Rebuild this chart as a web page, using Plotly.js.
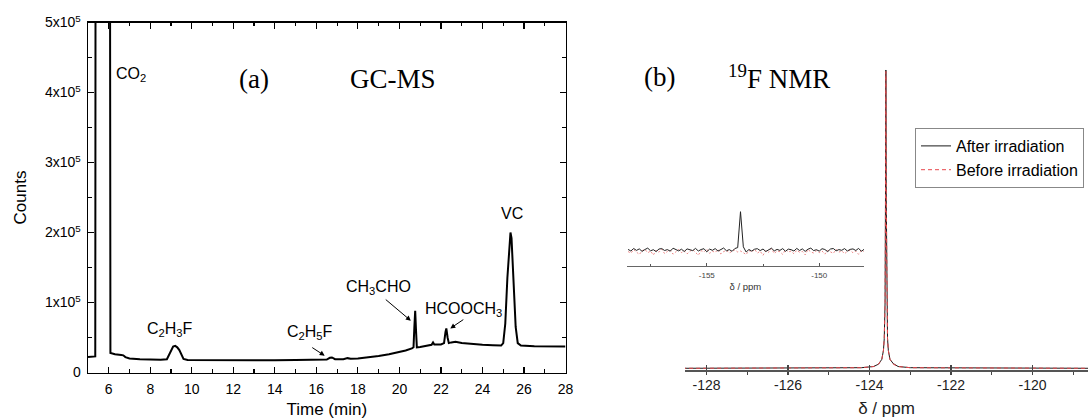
<!DOCTYPE html>
<html>
<head>
<meta charset="utf-8">
<script src="https://cdn.plot.ly/plotly-3.0.1.min.js"></script>
<style>html,body{margin:0;padding:0;background:#fff;}#chart{width:1088px;height:419px;}</style>
</head>
<body>
<div id="chart"></div>
<script>
// ---- (a) GC-MS chromatogram ----
const gcTime = [5.0, 5.3, 5.35, 5.37, 6.05, 6.08, 6.3, 6.6, 6.7, 6.8, 7.0, 7.5, 8.0, 8.5, 8.8, 8.9, 9.0, 9.1, 9.2, 9.3, 9.4, 9.5, 9.6, 9.8,
  10.5, 11, 12, 13, 14, 15, 16, 16.5, 16.65, 16.75, 16.9, 17.3, 17.5, 17.65, 18, 18.5, 19, 19.5, 20, 20.3, 20.6, 20.68, 20.72, 20.76,
  20.8, 20.84, 21.0, 21.3, 21.55, 21.62, 21.68, 22.0, 22.15, 22.22, 22.26, 22.32, 22.38, 22.5, 22.7, 23.0, 23.5, 24.0, 24.5, 24.9,
  25.0, 25.1, 25.2, 25.3, 25.35, 25.4, 25.5, 25.6, 25.7, 25.85, 26.5, 27, 27.5, 28];
const gcCounts = [22000, 22000, 23000, 900000, 900000, 28000, 26000, 25000, 24500, 22000, 20000, 19000, 18500, 18200, 19000, 25000, 33000, 37000, 38000, 36000, 32000, 25000, 19500, 18000,
  17800, 17700, 17500, 17400, 17500, 17700, 18000, 18500, 21000, 21500, 19000, 19000, 20500, 19500, 20000, 21500, 23500, 26000, 29000, 31500, 34500, 36000, 65000, 88000,
  60000, 36000, 36500, 38000, 39500, 43000, 40000, 40000, 42000, 58000, 63000, 50000, 42000, 43000, 44000, 42000, 40500, 39500, 39000, 38500,
  42000, 70000, 135000, 190000, 200000, 192000, 130000, 65000, 42000, 38500, 37500, 37500, 37000, 37000];
const gcXTicks = [6, 8, 10, 12, 14, 16, 18, 20, 22, 24, 26, 28];
const gcYTicks = [0, 100000, 200000, 300000, 400000, 500000];
const gcYTickText = ['0', '1x10<sup>5</sup>', '2x10<sup>5</sup>', '3x10<sup>5</sup>', '4x10<sup>5</sup>', '5x10<sup>5</sup>'];

// peak labels: [text, time, counts]
const gcLabels = [
  ['CO<sub>2</sub>', 7.07, 425000],
  ['C<sub>2</sub>H<sub>3</sub>F', 8.97, 62000],
  ['C<sub>2</sub>H<sub>5</sub>F', 15.7, 57000],
  ['CH<sub>3</sub>CHO', 19.0, 121000],
  ['HCOOCH<sub>3</sub>', 23.07, 90000],
  ['VC', 25.4, 227000]
];
// arrows: [tailTime, tailCounts, headTime, headCounts]
const gcArrows = [
  [15.73, 37000, 16.4, 24000],
  [19.27, 106000, 20.55, 74000],
  [23.15, 77000, 22.45, 63000]
];

// ---- (b) 19F NMR ----
const nmrShift = [-128.6, -124.2, -123.9, -123.78, -123.7, -123.66, -123.64, -123.62, -123.61, -123.6, -123.59, -123.58, -123.56, -123.54, -123.5, -123.42, -123.3, -123.0, -118.5];
const nmrAfter = [0, 0.002, 0.006, 0.014, 0.03, 0.06, 0.1, 0.22, 0.55, 1.0, 0.55, 0.22, 0.1, 0.06, 0.03, 0.016, 0.006, 0.002, 0];
const nmrBefore = [0, 0.002, 0.006, 0.014, 0.03, 0.06, 0.1, 0.22, 0.55, 0.995, 0.55, 0.22, 0.1, 0.06, 0.03, 0.014, 0.006, 0.002, 0];
const nmrTicks = [-128, -126, -124, -122, -120];
const nmrTickText = ['-128', '-126', '-124', '-122', '-120'];

// inset: spectrum from -158.5 ppm in 0.125 ppm steps
const insetStart = -158.5;
const insetStep = 0.125;
const insetAfter = [0.6,-1.0,1.5,-0.4,1.1,-1.4,0.5,1.9,-0.8,0.3,-1.6,1.0,1.4,-0.5,0.4,-1.2,1.8,0.1,-0.9,0.8,
  -1.5,1.1,0.3,-0.6,1.6,-1.0,0.5,1.3,-1.8,0.9,
  -0.3,1.4,-1.1,0.6,2.0,-0.8,0.4,-1.3,1.5,2.4,
  38.3,
  3.2,-2.0,0.5,-1.1,0.8,1.3,-0.6,1.0,-1.5,0.4,1.8,-0.9,0.6,-0.4,1.4,-1.3,0.9,0.3,-1.0,1.6,
  -0.5,1.1,-1.4,0.8,1.9,-0.6,0.3,-1.1,1.3,0.5,-1.6,1.0,1.5,-0.8,0.4,-0.3,1.4,-1.0,0.6,1.1,-0.5,1.6,-1.3,0.8];
const insetBefore = [-1.5,-3.2,0.4,-2.1,-4.5,-0.8,0.6,-2.8,-1.0,-5.0,-0.3,-2.2,0.8,-3.6,-1.4,-0.2,-4.2,-1.8,0.5,-2.6,
  -0.9,-3.9,-1.2,0.3,-2.4,-5.2,-0.7,-1.9,0.9,-3.3,
  -1.1,-2.5,0.6,-4.0,-1.6,-0.4,-2.9,-1.3,0.2,-2.0,
  -1.0,
  -2.7,-4.6,-0.5,-1.8,0.7,-3.1,-1.2,-5.3,-0.6,-2.3,1.4,-3.5,-0.9,-1.7,-4.4,0.4,-2.0,-1.1,-3.8,-0.3,
  -2.2,-1.4,-4.8,0.5,-1.9,-3.0,-0.7,-2.6,-1.0,-4.1,-0.4,-1.5,-3.4,0.6,-2.1,-0.8,-3.7,-1.3,-0.2,-2.8,-1.1,-4.3,-0.6,-1.6];
const insetTicks = [-155, -150];
const insetTickText = ['-155', '-150'];
const insetMinor = [-157.5, -152.5];

const SANS = 'Liberation Sans, Arial, sans-serif';
const SERIF = 'Liberation Serif, Times New Roman, serif';

const traces = [
  {x: gcTime, y: gcCounts, xaxis: 'x', yaxis: 'y', mode: 'lines', line: {color: '#000', width: 2}, showlegend: false, hoverinfo: 'skip'},
  {x: nmrShift, y: nmrAfter, xaxis: 'x2', yaxis: 'y2', mode: 'lines', name: 'After irradiation', line: {color: '#1a1a1a', width: 1}},
  {x: nmrShift, y: nmrBefore, xaxis: 'x2', yaxis: 'y2', mode: 'lines', name: 'Before irradiation', line: {color: '#e8484d', width: 1, dash: '4px,3px'}},
  {y: insetBefore, x0: insetStart, dx: insetStep, xaxis: 'x3', yaxis: 'y3', mode: 'lines', showlegend: false, line: {color: '#e86a6a', width: 0.8, dash: '2px,2px'}},
  {y: insetAfter, x0: insetStart, dx: insetStep, xaxis: 'x3', yaxis: 'y3', mode: 'lines', showlegend: false, line: {color: '#222', width: 1}}
];

const W = 1088, H = 419;
const px = v => v / W;
const py = v => 1 - v / H;

const annotations = [];
gcLabels.forEach(l => annotations.push({x: l[1], y: l[2], xref: 'x', yref: 'y', text: l[0], showarrow: false,
  font: {family: SANS, size: 16, color: '#000'}, xanchor: 'center', yanchor: 'middle'}));
gcArrows.forEach(a => annotations.push({x: a[2], y: a[3], ax: a[0], ay: a[1], xref: 'x', yref: 'y', axref: 'x', ayref: 'y',
  text: '', showarrow: true, arrowhead: 2, arrowsize: 1, arrowwidth: 1, arrowcolor: '#000'}));
annotations.push({x: px(237), y: py(62), xref: 'paper', yref: 'paper', xanchor: 'left', text: '(a)', showarrow: false, font: {family: SERIF, size: 27, color: '#000'}});
annotations.push({x: px(348), y: py(62), xref: 'paper', yref: 'paper', xanchor: 'left', text: 'GC-MS', showarrow: false, font: {family: SERIF, size: 27, color: '#000'}});
annotations.push({x: px(642), y: py(60), xref: 'paper', yref: 'paper', xanchor: 'left', text: '(b)', showarrow: false, font: {family: SERIF, size: 27, color: '#000'}});
annotations.push({x: px(726), y: py(58), xref: 'paper', yref: 'paper', xanchor: 'left', text: '<sup>19</sup>F NMR', showarrow: false, font: {family: SERIF, size: 27, color: '#000'}});

const layout = {
  width: W, height: H, autosize: false,
  margin: {l: 0, r: 0, t: 0, b: 0, pad: 0, autoexpand: false},
  paper_bgcolor: '#fff', plot_bgcolor: 'rgba(0,0,0,0)',
  showlegend: true,
  legend: {x: px(915), y: py(128), xanchor: 'left', yanchor: 'top', bgcolor: '#fff', bordercolor: '#888', borderwidth: 1,
    font: {family: SANS, size: 16, color: '#000'}},
  xaxis: {domain: [px(88), px(565.5)], anchor: 'y', range: [5, 28], tickmode: 'array', tickvals: gcXTicks,
    ticks: 'inside', ticklen: 6, tickwidth: 1.2, tickcolor: '#000', showline: true, linecolor: '#000', linewidth: 1.5, mirror: 'allticks',
    minor: {dtick: 1, tick0: 5, ticks: 'inside', ticklen: 3.5, tickwidth: 1.2, tickcolor: '#000'},
    showgrid: false, zeroline: false, tickfont: {family: SANS, size: 14, color: '#000'}, ticklabelstandoff: 3,
    title: {text: 'Time (min)', font: {family: SANS, size: 17, color: '#000'}, standoff: 8}},
  yaxis: {domain: [py(372.5), py(22.5)], anchor: 'x', range: [0, 500000], tickmode: 'array', tickvals: gcYTicks, ticktext: gcYTickText,
    ticks: 'inside', ticklen: 6, tickwidth: 1.2, tickcolor: '#000', showline: true, linecolor: '#000', linewidth: 1.5, mirror: 'allticks',
    minor: {dtick: 50000, tick0: 0, ticks: 'inside', ticklen: 3.5, tickwidth: 1.2, tickcolor: '#000'},
    showgrid: false, zeroline: false, tickfont: {family: SANS, size: 14, color: '#000'}, ticklabelstandoff: 3,
    title: {text: 'Counts', font: {family: SANS, size: 17, color: '#000'}, standoff: 14}},
  xaxis2: {domain: [px(685), 1], anchor: 'y2', range: [-128.53, -118.64], tickmode: 'array', tickvals: nmrTicks, ticktext: nmrTickText,
    ticks: 'inside', ticklen: 5, tickwidth: 1.2, tickcolor: '#444', showline: true, linecolor: '#555', linewidth: 1.5,
    minor: {dtick: 1, tick0: -129, ticks: 'outside', ticklen: 3, tickwidth: 1.2, tickcolor: '#444'},
    showgrid: false, zeroline: false, tickfont: {family: SANS, size: 14, color: '#222'}, ticklabelstandoff: 2,
    title: {text: 'δ / ppm', font: {family: SANS, size: 17, color: '#222'}, standoff: 10}},
  yaxis2: {domain: [py(370), py(60)], anchor: 'x2', range: [-0.0057, 1.0335], visible: false},
  xaxis3: {domain: [px(626.7), px(864)], anchor: 'y3', range: [-158.56, -148.01], tickmode: 'array', tickvals: insetTicks, ticktext: insetTickText,
    ticks: 'inside', ticklen: 3, tickwidth: 1, tickcolor: '#555', showline: true, linecolor: '#666', linewidth: 1,
    minor: {tickmode: 'array', tickvals: insetMinor, ticks: 'inside', ticklen: 2, tickwidth: 1, tickcolor: '#555'},
    showgrid: false, zeroline: false, tickfont: {family: SANS, size: 8, color: '#444'}, ticklabelstandoff: 1,
    title: {text: 'δ / ppm', font: {family: SANS, size: 9.5, color: '#333'}, standoff: 4}},
  yaxis3: {domain: [py(266), py(205)], anchor: 'x3', range: [-16, 45], visible: false},
  annotations: annotations
};

Plotly.newPlot('chart', traces, layout, {staticPlot: true, displayModeBar: false});
</script>
</body>
</html>
